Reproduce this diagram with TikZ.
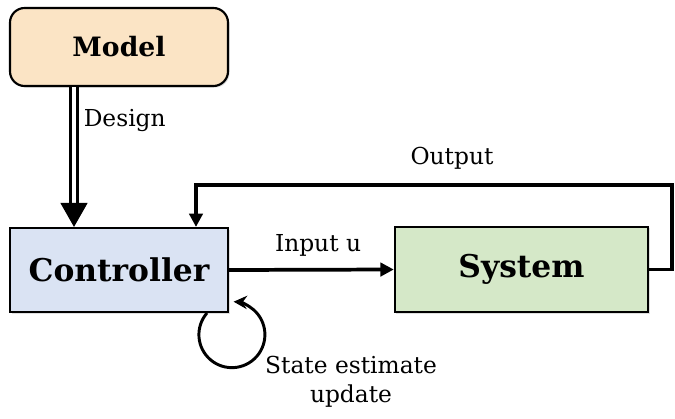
\documentclass[tikz,border=0pt]{standalone}
\usepackage{fontspec}
\setmainfont{DejaVu Serif}
\usetikzlibrary{
	positioning,
	arrows.meta,
	shadows
}
\definecolor{modelfill}{RGB}{251,228,197}
\definecolor{ctrlfill}{RGB}{218,227,243}
\definecolor{sysfill}{RGB}{213,232,200}

\begin{document}
\begin{tikzpicture}[
			x=0.75pt,y=-0.75pt,
			block/.style={
				draw,
				line width=1.6pt,
				minimum width=163.5pt,
				minimum height=63pt,
				font=\fontsize{23.5}{28}\selectfont\bfseries,
				align=center,
				drop shadow={opacity=0.25,shadow xshift=1.2pt,shadow yshift=-1.2pt}
			},
			lbl/.style={font=\fontsize{17.5}{22}\selectfont},
			arrow/.style={-{Triangle[length=10pt,width=10pt]},line width=2.8pt}
			]
			\useasboundingbox (0,0) rectangle (675,418);
			
			\node[block,fill=modelfill,rounded corners=11pt,minimum height=58.5pt,
				font=\fontsize{20}{24}\selectfont\bfseries] (model) at (119,47)
			{Model};
			
			\node[block,fill=ctrlfill] (ctrl) at (119,270)
			{Controller};
			
			\node[block,fill=sysfill,minimum width=190pt,minimum height=64pt] (sys) at (521.5,269.5)
			{System};
			
			% feedback corners
			\coordinate (fbr) at (672,185);
			\coordinate (fbl) at (196,185);
			\coordinate (loopstart) at (207,313);
			
			\draw[double,double distance=3.5pt,line width=2pt,
				-{Triangle[length=18pt,width=20pt]}] (model.south -| 74,0) -- (ctrl.north -| 74,0)
				node[lbl,pos=0.24,right=3pt] {Design};
			
			\draw[arrow] (ctrl.east) -- (sys.west)
				node[lbl,midway,above=5pt,xshift=5pt] {Input u};
			
			\draw[arrow] (sys.east) -| (fbr) -- (fbl)
				node[lbl,pos=0.5,above=7pt,xshift=13.5pt] {Output} -- (ctrl.north -| fbl);
			
			\draw[-{Stealth[length=10pt,width=10pt]},line width=2.2pt] (loopstart)
				arc[start angle=221,end angle=-87,radius=33];
			
			\node[lbl,align=center] (state) at (351,382) {State estimate\\update};
			
		\end{tikzpicture}
\end{document}
